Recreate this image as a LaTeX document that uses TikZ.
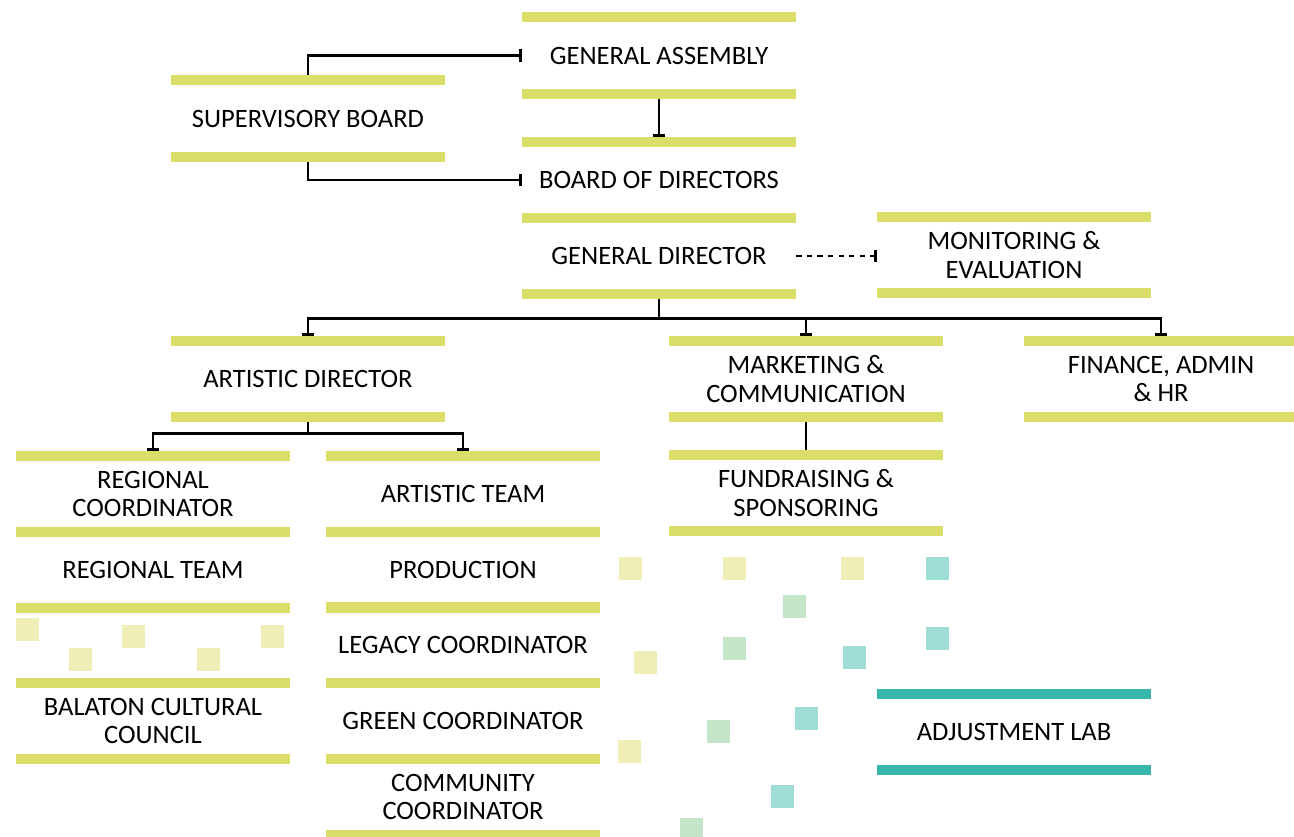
\documentclass[tikz,border=0pt]{standalone}
\usepackage{fontspec}
\setmainfont{Carlito}
\usetikzlibrary{arrows.meta}

\definecolor{barcol}{HTML}{DBDD69}
\definecolor{labcol}{HTML}{39B7AB}
\definecolor{sqy}{HTML}{EEEEB6}
\definecolor{sqg}{HTML}{C5E5C8}
\definecolor{sqt}{HTML}{9EDCD6}

\tikzset{
  unit/.style={minimum width=5.48cm, minimum height=1.52cm, inner sep=0pt,
    align=center, font=\fontsize{15.1}{16.4}\selectfont,
    append after command={
      (\tikzlastnode.north west) edge[draw=#1, line width=0.2cm] (\tikzlastnode.north east)
      (\tikzlastnode.south west) edge[draw=#1, line width=0.2cm] (\tikzlastnode.south east)}},
  unit/.default=barcol,
  link/.style={line width=1.4pt, -{Bar[width=7pt,line width=1.6pt]}},
}

\begin{document}
\begin{tikzpicture}[x=0.02cm, y=-0.02cm]
  \useasboundingbox (0,0) rectangle (1294,836);

  % governance
  \node[unit] (ga)  at (659,55.5) {GENERAL ASSEMBLY};
  \node[unit] (sb)  at (308,118.5) {SUPERVISORY BOARD};
  \node[unit] (bod) at (659,180) {BOARD OF DIRECTORS};
  \node[unit] (gd)  at (659,256) {GENERAL DIRECTOR};
  \node[unit] (me)  at (1014,255) {MONITORING \&\\EVALUATION};

  % departments
  \node[unit] (ad) at (308,379) {ARTISTIC DIRECTOR};
  \node[unit] (mc) at (806,379) {MARKETING \&\\COMMUNICATION};
  \node[unit] (fa) at (1161,379) {FINANCE, ADMIN\\\& HR};
  \node[unit] (fr) at (806,493) {FUNDRAISING \&\\SPONSORING};

  \node[unit] (rc) at (153,494) {REGIONAL\\COORDINATOR};
  \node[unit] (rt) at (153,570) {REGIONAL TEAM};
  \node[unit] (bc) at (153,721) {BALATON CULTURAL\\COUNCIL};

  \node[unit] (at) at (463,494) {ARTISTIC TEAM};
  \node[unit] (pr) at (463,570) {PRODUCTION};
  \node[unit] (lc) at (463,645) {LEGACY COORDINATOR};
  \node[unit] (gc) at (463,721) {GREEN COORDINATOR};
  \node[unit] (cc) at (463,797) {COMMUNITY\\COORDINATOR};

  \node[unit=labcol] (al) at (1014,732) {ADJUSTMENT LAB};

  % links
  \draw[link] ([yshift=0.1cm]sb.north) |- (ga.west);
  \draw[link] ([yshift=-0.1cm]sb.south) |- (bod.west);
  \draw[link] ([yshift=-0.1cm]ga.south) -- ([yshift=0.1cm]bod.north);
  \draw[link, dashed] (gd.east) -- (gd.east -| me.west);
  \foreach \n in {ad,mc,fa}
    \draw[link] ([yshift=-0.1cm]gd.south) -- ++(0,19) -| ([yshift=0.1cm]\n.north);
  \foreach \n in {rc,at}
    \draw[link] ([yshift=-0.1cm]ad.south) -- ++(0,11) -| ([yshift=0.1cm]\n.north);
  \draw[line width=1.4pt] ([yshift=-0.1cm]mc.south) -- ([yshift=0.1cm]fr.north);

  % squares
  \foreach \px/\py/\c in {619/557/sqy, 723/557/sqy, 841/557/sqy, 926/557/sqt,
      783/595/sqg, 723/637/sqg, 634/651/sqy, 843/646/sqt, 926/627/sqt,
      795/707/sqt, 707/720/sqg, 618/740/sqy, 771/785/sqt, 680/818/sqg,
      16/618/sqy, 69/648/sqy, 122/625/sqy, 197/648/sqy, 261/625/sqy}
    \fill[\c] (\px,\py) rectangle ++(23,23);
\end{tikzpicture}
\end{document}
